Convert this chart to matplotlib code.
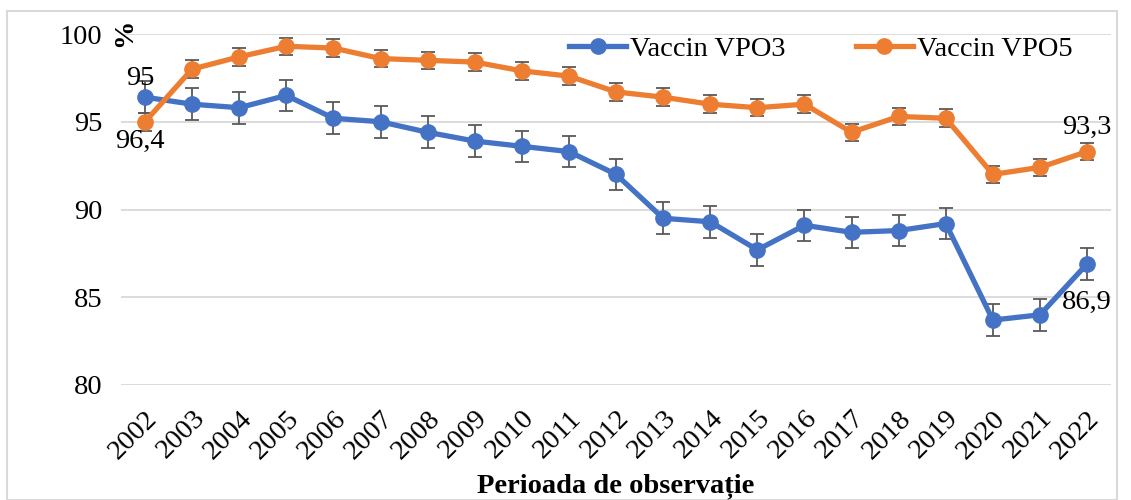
import numpy as np
import matplotlib
matplotlib.use("Agg")
import matplotlib.pyplot as plt
from matplotlib.patches import Rectangle
from matplotlib.lines import Line2D

years = [str(y) for y in range(2002, 2023)]
vpo3 = [96.4, 96.0, 95.8, 96.5, 95.2, 95.0, 94.4, 93.9, 93.6, 93.3, 92.0,
        89.5, 89.3, 87.7, 89.1, 88.7, 88.8, 89.2, 83.7, 84.0, 86.9]
vpo5 = [95.0, 98.0, 98.7, 99.3, 99.2, 98.6, 98.5, 98.4, 97.9, 97.6, 96.7,
        96.4, 96.0, 95.8, 96.0, 94.4, 95.3, 95.2, 92.0, 92.4, 93.3]
err3 = 0.9
err5 = 0.5
yticks = [80, 85, 90, 95, 100]

plt.rcParams['font.family'] = ['Liberation Serif', 'DejaVu Serif']
plt.rcParams['font.size'] = 20.5

blue = '#4472C4'
orange = '#ED7D31'
grey = '#595959'

fig = plt.figure(figsize=(11.31, 5.0), dpi=100)
ax = fig.add_axes([0.1074, 0.23, 0.8746, 0.702])

x = np.arange(len(years))
ax.errorbar(x, vpo3, yerr=err3, color=blue, lw=3.8, marker='o', ms=11,
            ecolor=grey, elinewidth=1.3, capsize=5, capthick=1.3, zorder=3)
ax.errorbar(x, vpo5, yerr=err5, color=orange, lw=3.8, marker='o', ms=11,
            ecolor=grey, elinewidth=1.3, capsize=5, capthick=1.3, zorder=3)

ax.set_xlim(-0.5, len(years) - 0.5)
ax.set_ylim(80, 100)
ax.set_yticks(yticks)
ax.set_xticks(x)
ax.set_xticklabels(years, rotation=45, ha='right', rotation_mode='anchor')
ax.tick_params(axis='both', length=0)
ax.tick_params(axis='y', pad=14)
ax.tick_params(axis='x', pad=15)
ax.grid(axis='y', color='#d9d9d9', lw=1.3)
ax.set_axisbelow(True)
for s in ax.spines.values():
    s.set_visible(False)

# data labels (as they appear in the original)
ax.text(-0.1, 97.45, '95', ha='center', va='center')
ax.text(-0.1, 93.9, '96,4', ha='center', va='center')
ax.text(20, 94.7, '93,3', ha='center', va='center')
ax.text(20.0, 84.7, '86,9', ha='center', va='center')

fig.text(616 / 1131, 1 - 486 / 500, 'Perioada de observație',
         fontweight='bold', ha='center', va='center')
fig.text(125 / 1131, 1 - 33 / 500, '%', rotation=90, fontweight='bold',
         ha='center', va='center')

handles = [Line2D([], [], color=blue, lw=3.8, marker='o', ms=11),
           Line2D([], [], color=orange, lw=3.8, marker='o', ms=11)]
ax.legend(handles, ['Vaccin VPO3', 'Vaccin VPO5'], loc='center',
          bbox_to_anchor=(0.707, 0.958), ncol=2, frameon=False,
          handlelength=2.0, columnspacing=2.45, handletextpad=0.15,
          borderaxespad=0)

fig.patches.append(Rectangle((7 / 1131, 0), 1110 / 1131, 1 - 11 / 500,
                             transform=fig.transFigure, fill=False,
                             edgecolor='#d9d9d9', lw=1.5))

fig.savefig('out.png', dpi=100)
